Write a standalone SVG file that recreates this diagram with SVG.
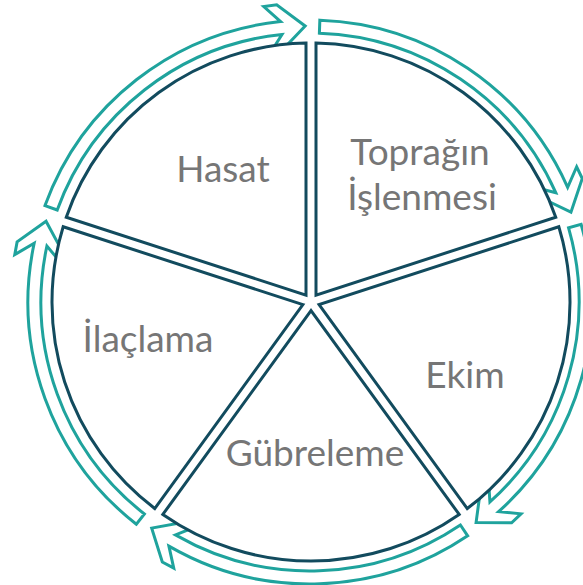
<svg xmlns="http://www.w3.org/2000/svg" width="583" height="585" viewBox="0 0 583 585">
<style>
.seg{fill:#ffffff;stroke:#124B5E;stroke-width:3;stroke-linejoin:miter}
.arr{fill:#ffffff;stroke:#1FA39D;stroke-width:3;stroke-linejoin:miter}
.lbl{font-family:Lato,"Liberation Sans",sans-serif;font-size:37px;fill:#767676;text-anchor:middle}
</style>
<rect width="583" height="585" fill="#ffffff"/>
<g id="connectors">
<path class="arr" d="M319.84,20.17 A282,282 0 0 1 567.66,187.39 L576.67,166.77 L582.29,178.48 L570.96,212.14 L540.40,197.49 L535.65,187.57 L555.78,192.67 A269,269 0 0 0 319.39,33.16 Z"/>
<path class="arr" d="M581.08,224.27 A282,282 0 0 1 498.62,511.63 L521.02,513.83 L511.62,522.80 L476.10,522.42 L480.60,488.83 L488.55,481.24 L489.93,501.97 A269,269 0 0 0 568.58,227.85 Z"/>
<path class="arr" d="M467.69,535.79 A282,282 0 0 1 168.92,546.17 L173.75,568.15 L162.31,561.98 L151.69,528.09 L185.03,521.98 L194.71,527.21 L175.42,534.91 A269,269 0 0 0 460.42,525.01 Z"/>
<path class="arr" d="M136.38,524.22 A282,282 0 0 1 34.18,243.27 L14.77,254.66 L17.11,241.88 L46.06,221.31 L62.17,251.13 L60.19,261.94 L46.90,245.98 A269,269 0 0 0 144.39,513.97 Z"/>
<path class="arr" d="M45.01,205.55 A282,282 0 0 1 280.62,21.53 L263.80,6.59 L276.67,4.86 L305.18,26.04 L281.80,50.58 L270.90,52.04 L281.98,34.46 A269,269 0 0 0 57.22,210.00 Z"/>
</g>
<g id="node-topragin">
<path class="seg" d="M316,295.12 L316,43.05 A259,259 0 0 1 555.74,217.23 Z"/>
<text class="lbl" x="420" y="165">Toprağın</text>
<text class="lbl" x="422" y="210">İşlenmesi</text>
</g>
<g id="node-hasat">
<path class="seg" d="M306,295.12 L306,43.05 A259,259 0 0 0 66.26,217.23 Z"/>
<text class="lbl" x="223" y="182">Hasat</text>
</g>
<g id="node-ilaclama">
<path class="seg" d="M302.91,304.63 L63.17,226.74 A259,259 0 0 0 154.74,508.56 Z"/>
<text class="lbl" x="148" y="352">İlaçlama</text>
</g>
<g id="node-gubreleme">
<path class="seg" d="M311,310.51 L162.83,514.44 A259,259 0 0 0 459.17,514.44 Z"/>
<text class="lbl" x="315" y="466">Gübreleme</text>
</g>
<g id="node-ekim">
<path class="seg" d="M319.09,304.63 L467.26,508.56 A259,259 0 0 0 558.83,226.74 Z"/>
<text class="lbl" x="465" y="388">Ekim</text>
</g>
</svg>
